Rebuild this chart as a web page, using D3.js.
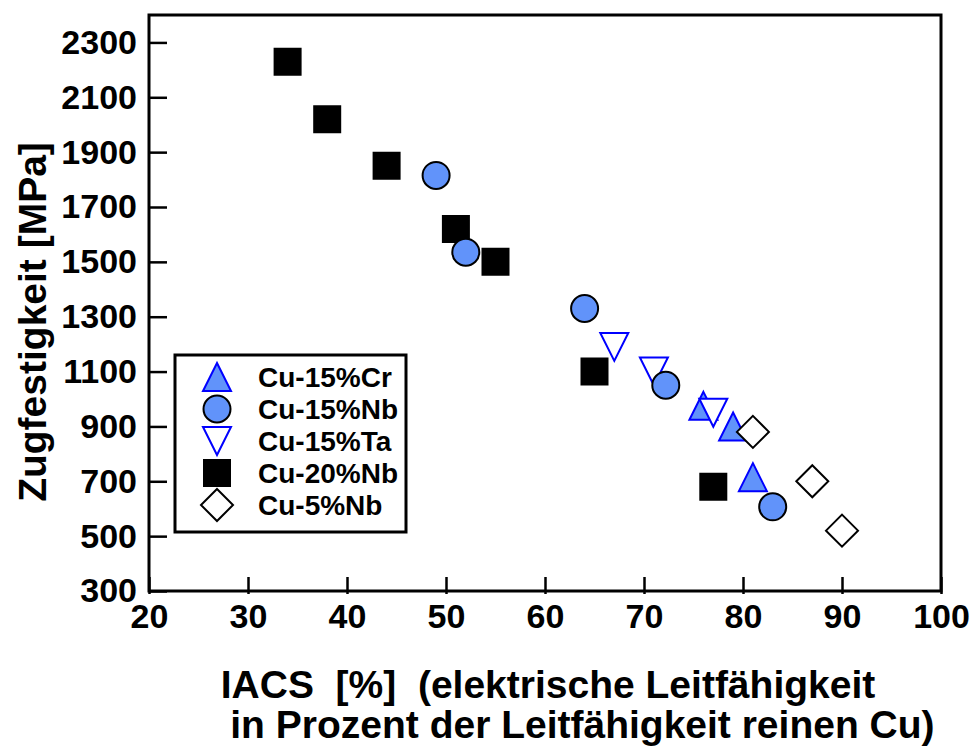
<!DOCTYPE html>
<html>
<head>
<meta charset="utf-8">
<script src="https://cdn.jsdelivr.net/npm/d3@7"></script>
<style>
  body { margin: 0; background: #fff; }
  svg { font-family: Arial, 'Liberation Sans', sans-serif; font-weight: bold; }
  .axis text { font-size: 34px; font-weight: bold; fill: #000; }
  .axis line { stroke: #000; stroke-width: 2.5px; }
</style>
</head>
<body>
<div id="chart"></div>
<script>
// series data: [IACS %, tensile strength MPa]
var cuCr15 = [[76, 975], [79, 900], [81, 715]];
var cuNb15 = [[49, 1815], [52, 1535], [64, 1330], [72.2, 1050], [83, 607]];
var cuTa15 = [[67, 1190], [71, 1100], [77, 950]];
var cuNb20 = [[34, 2230], [38, 2020], [44, 1850], [51, 1620], [55, 1500], [65, 1100], [77, 680]];
var cuNb5 = [[81, 880], [87, 700], [90, 520]];

var seriesNames = ['Cu-15%Cr', 'Cu-15%Nb', 'Cu-15%Ta', 'Cu-20%Nb', 'Cu-5%Nb'];
var xTicks = [20, 30, 40, 50, 60, 70, 80, 90, 100];
var yTicks = [300, 500, 700, 900, 1100, 1300, 1500, 1700, 1900, 2100, 2300];

var margin = {top: 15, right: 38, bottom: 160, left: 149},
    width = 979 - margin.left - margin.right,
    height = 751 - margin.top - margin.bottom;

var svg = d3.select('#chart').append('svg')
    .attr('width', 979)
    .attr('height', 751);

var wrapper = svg.append('g')
    .attr('transform', 'translate(' + margin.left + ',' + margin.top + ')');

var xScale = d3.scaleLinear().domain([20, 100]).range([0, width]),
    yScale = d3.scaleLinear().domain([300, 2400]).range([height, 0]);

var blue = '#6193fa';

// marker shapes, centred on bounding box
var shapes = {
  triUp: function(s) { return 'M0,' + (-s / 2) + 'L' + (s / 2) + ',' + (s / 2) + 'L' + (-s / 2) + ',' + (s / 2) + 'Z'; },
  triDown: function(s) { return 'M0,' + (s / 2) + 'L' + (s / 2) + ',' + (-s / 2) + 'L' + (-s / 2) + ',' + (-s / 2) + 'Z'; },
  square: function(s) { return 'M' + (-s / 2) + ',' + (-s / 2) + 'h' + s + 'v' + s + 'h' + (-s) + 'Z'; },
  diamond: function(s) { return 'M0,' + (-s / 2) + 'L' + (s / 2) + ',0L0,' + (s / 2) + 'L' + (-s / 2) + ',0Z'; },
  circle: function(s) { var r = s / 2; return 'M' + r + ',0A' + r + ',' + r + ' 0 1,1 ' + (-r) + ',0A' + r + ',' + r + ' 0 1,1 ' + r + ',0Z'; }
};

var styles = {
  'Cu-15%Cr': {shape: 'triUp', size: 28, fill: blue, stroke: '#0000ff', data: cuCr15},
  'Cu-15%Nb': {shape: 'circle', size: 27, fill: blue, stroke: '#000', data: cuNb15},
  'Cu-15%Ta': {shape: 'triDown', size: 28, fill: '#fff', stroke: '#0000ff', data: cuTa15},
  'Cu-20%Nb': {shape: 'square', size: 26, fill: '#000', stroke: '#000', data: cuNb20},
  'Cu-5%Nb': {shape: 'diamond', size: 32, fill: '#fff', stroke: '#000', data: cuNb5}
};

// axes
var xAxis = wrapper.append('g')
    .attr('class', 'axis')
    .attr('transform', 'translate(0,' + height + ')')
    .call(d3.axisBottom(xScale).tickValues(xTicks).tickFormat(d3.format('d')).tickSize(-14).tickPadding(13));
xAxis.select('.domain').remove();
xAxis.selectAll('line').attr('y2', -14).attr('y1', 3);

var yAxis = wrapper.append('g')
    .attr('class', 'axis')
    .call(d3.axisLeft(yScale).tickValues(yTicks).tickFormat(d3.format('d')).tickSize(-18).tickPadding(12));
yAxis.select('.domain').remove();

// frame
wrapper.append('rect')
    .attr('width', width)
    .attr('height', height)
    .style('fill', 'none')
    .style('stroke', '#000')
    .style('stroke-width', 3);

// points, drawn in the stacking order of the original
var drawOrder = ['Cu-20%Nb', 'Cu-15%Cr', 'Cu-15%Ta', 'Cu-15%Nb', 'Cu-5%Nb'];
drawOrder.forEach(function(name) {
  var st = styles[name];
  wrapper.selectAll('.pt-' + st.shape)
      .data(st.data)
    .enter().append('path')
      .attr('class', 'pt-' + st.shape)
      .attr('d', shapes[st.shape](st.size))
      .attr('transform', function(d) { return 'translate(' + xScale(d[0]) + ',' + yScale(d[1]) + ')'; })
      .style('fill', st.fill)
      .style('stroke', st.stroke)
      .style('stroke-width', 2);
});

// legend
var legendG = svg.append('g').attr('transform', 'translate(175,355)');
legendG.append('rect')
    .attr('width', 231)
    .attr('height', 177)
    .style('fill', '#fff')
    .style('stroke', '#000')
    .style('stroke-width', 3);

var legend = legendG.selectAll('.legend')
    .data(seriesNames)
  .enter().append('g')
    .attr('class', 'legend')
    .attr('transform', function(d, i) { return 'translate(42,' + (22 + i * 32) + ')'; });

legend.append('path')
    .attr('d', function(d) { return shapes[styles[d].shape](styles[d].size); })
    .style('fill', function(d) { return styles[d].fill; })
    .style('stroke', function(d) { return styles[d].stroke; })
    .style('stroke-width', 2);

legend.append('text')
    .attr('x', 41)
    .attr('dy', '0.35em')
    .style('font-size', '28px')
    .text(function(d) { return d; });

// axis titles
svg.append('text')
    .attr('transform', 'translate(46,322) rotate(-90)')
    .style('text-anchor', 'middle')
    .style('font-size', '39px')
    .text('Zugfestigkeit [MPa]');

svg.append('text')
    .attr('x', 548)
    .attr('y', 698)
    .style('text-anchor', 'middle')
    .style('font-size', '39px')
    .style('white-space', 'pre')
    .attr('xml:space', 'preserve')
    .text('IACS  [%]  (elektrische Leitfähigkeit');

svg.append('text')
    .attr('x', 577)
    .attr('y', 738)
    .style('text-anchor', 'middle')
    .style('font-size', '39px')
    .style('white-space', 'pre')
    .attr('xml:space', 'preserve')
    .text(' in Prozent der Leitfähigkeit reinen Cu)');
</script>
</body>
</html>
